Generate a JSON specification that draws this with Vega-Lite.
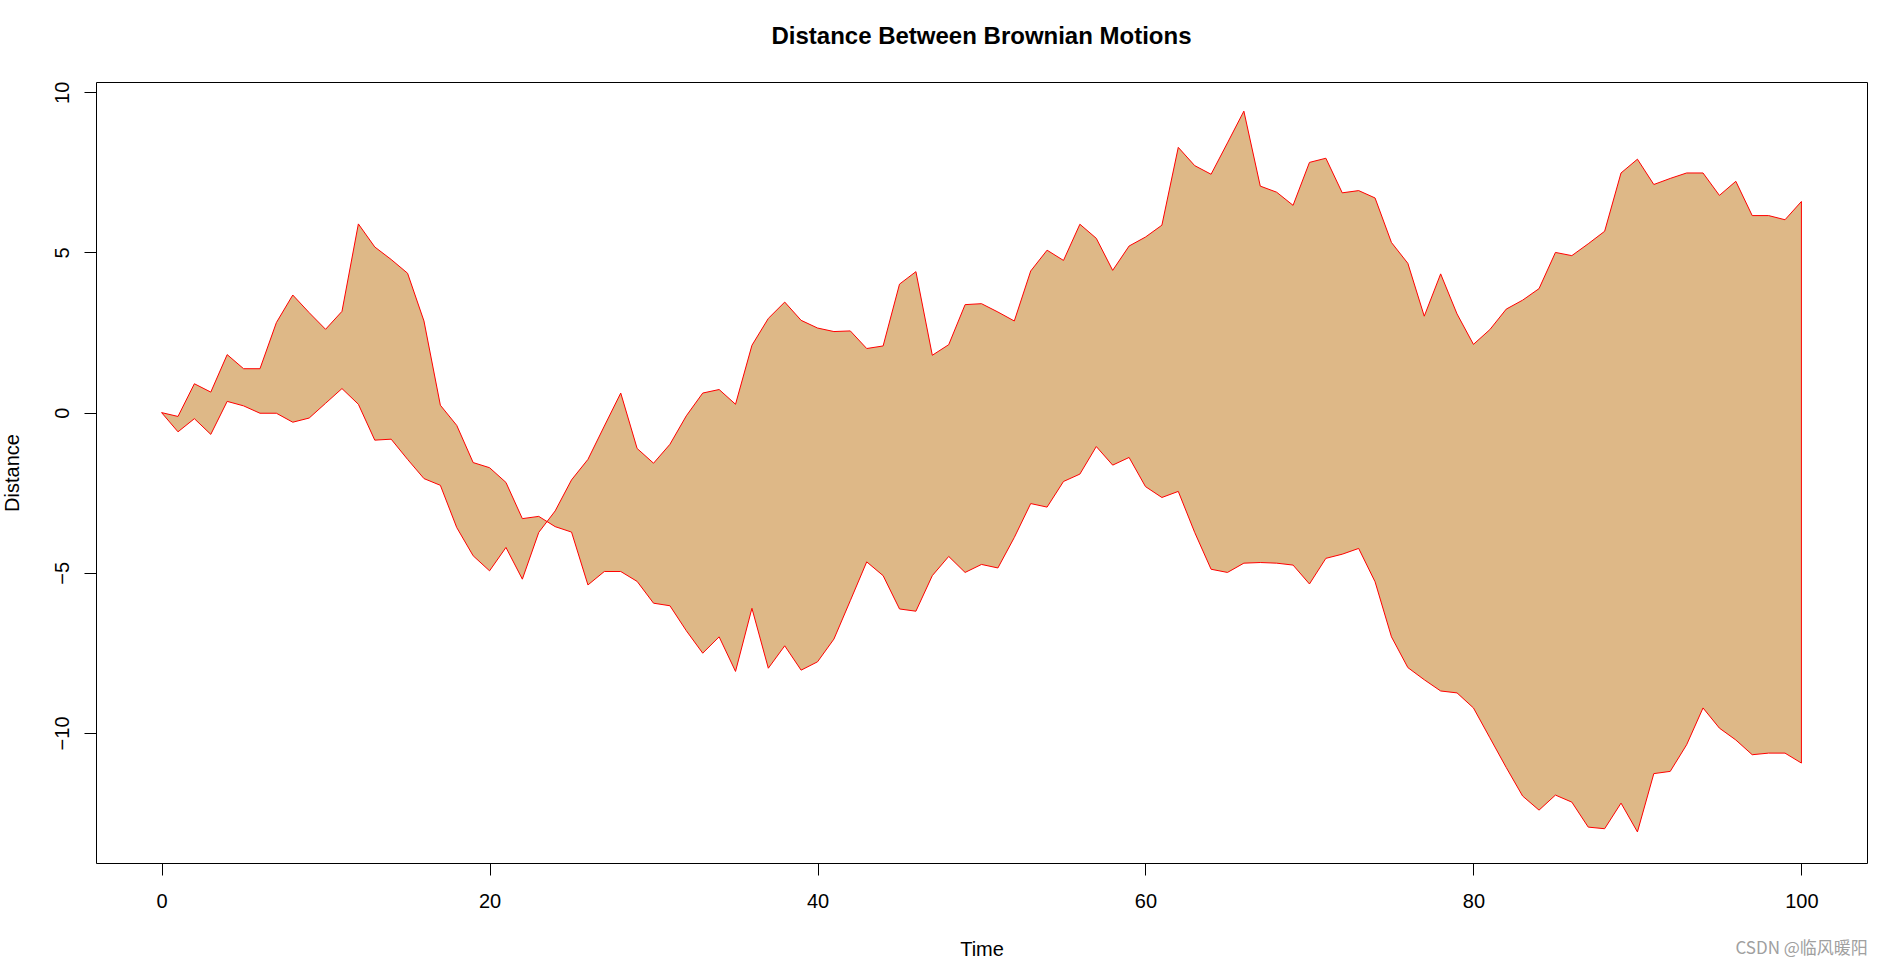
{
  "$schema": "https://vega.github.io/schema/vega-lite/v6.json",
  "width": 1771,
  "height": 781,
  "autosize": {"type": "none"},
  "padding": {"left": 96, "top": 82, "right": 17, "bottom": 104},
  "background": "white",
  "config": {
    "font": "Liberation Sans",
    "view": {"stroke": "#000000", "strokeWidth": 1},
    "axis": {
      "grid": false,
      "domain": false,
      "tickColor": "#000000",
      "tickSize": 12,
      "tickWidth": 1,
      "labelColor": "#000000",
      "labelFont": "Liberation Sans",
      "labelFontSize": 20,
      "titleFont": "Liberation Sans",
      "titleFontSize": 20,
      "titleFontWeight": "normal",
      "titleColor": "#000000"
    }
  },
  "title": {
    "text": "Distance Between Brownian Motions",
    "font": "Liberation Sans",
    "fontSize": 24,
    "fontWeight": "bold",
    "color": "#000000",
    "anchor": "middle",
    "offset": 32
  },
  "layer": [
    {
      "data": {
        "values": [
          {"t": 0, "a": 0, "b": 0},
          {"t": 1, "a": -0.12, "b": -0.6},
          {"t": 2, "a": 0.9, "b": -0.19},
          {"t": 3, "a": 0.64, "b": -0.68},
          {"t": 4, "a": 1.81, "b": 0.35},
          {"t": 5, "a": 1.37, "b": 0.21},
          {"t": 6, "a": 1.37, "b": -0.02},
          {"t": 7, "a": 2.81, "b": -0.02},
          {"t": 8, "a": 3.67, "b": -0.3},
          {"t": 9, "a": 3.12, "b": -0.17},
          {"t": 10, "a": 2.6, "b": 0.29},
          {"t": 11, "a": 3.16, "b": 0.75},
          {"t": 12, "a": 5.89, "b": 0.26},
          {"t": 13, "a": 5.17, "b": -0.86},
          {"t": 14, "a": 4.78, "b": -0.83},
          {"t": 15, "a": 4.35, "b": -1.46},
          {"t": 16, "a": 2.86, "b": -2.06},
          {"t": 17, "a": 0.23, "b": -2.27},
          {"t": 18, "a": -0.4, "b": -3.59},
          {"t": 19, "a": -1.56, "b": -4.47},
          {"t": 20, "a": -1.72, "b": -4.94},
          {"t": 21, "a": -2.18, "b": -4.21},
          {"t": 22, "a": -3.31, "b": -5.2},
          {"t": 23, "a": -3.24, "b": -3.74},
          {"t": 24, "a": -3.56, "b": -3.07},
          {"t": 25, "a": -3.73, "b": -2.1},
          {"t": 26, "a": -5.38, "b": -1.46},
          {"t": 27, "a": -4.96, "b": -0.42},
          {"t": 28, "a": -4.96, "b": 0.61},
          {"t": 29, "a": -5.27, "b": -1.12},
          {"t": 30, "a": -5.95, "b": -1.58},
          {"t": 31, "a": -6.03, "b": -0.99},
          {"t": 32, "a": -6.81, "b": -0.1},
          {"t": 33, "a": -7.51, "b": 0.61},
          {"t": 34, "a": -7.0, "b": 0.72},
          {"t": 35, "a": -8.08, "b": 0.26},
          {"t": 36, "a": -6.11, "b": 2.1},
          {"t": 37, "a": -7.98, "b": 2.94},
          {"t": 38, "a": -7.28, "b": 3.45},
          {"t": 39, "a": -8.04, "b": 2.88},
          {"t": 40, "a": -7.78, "b": 2.64},
          {"t": 41, "a": -7.07, "b": 2.53},
          {"t": 42, "a": -5.87, "b": 2.55},
          {"t": 43, "a": -4.66, "b": 2.0},
          {"t": 44, "a": -5.09, "b": 2.08},
          {"t": 45, "a": -6.13, "b": 4.01},
          {"t": 46, "a": -6.2, "b": 4.4},
          {"t": 47, "a": -5.09, "b": 1.79},
          {"t": 48, "a": -4.49, "b": 2.12},
          {"t": 49, "a": -4.99, "b": 3.37},
          {"t": 50, "a": -4.74, "b": 3.4},
          {"t": 51, "a": -4.85, "b": 3.14},
          {"t": 52, "a": -3.9, "b": 2.86},
          {"t": 53, "a": -2.84, "b": 4.42},
          {"t": 54, "a": -2.95, "b": 5.07},
          {"t": 55, "a": -2.15, "b": 4.75},
          {"t": 56, "a": -1.92, "b": 5.88},
          {"t": 57, "a": -1.06, "b": 5.44},
          {"t": 58, "a": -1.64, "b": 4.44},
          {"t": 59, "a": -1.4, "b": 5.2},
          {"t": 60, "a": -2.31, "b": 5.48},
          {"t": 61, "a": -2.65, "b": 5.85},
          {"t": 62, "a": -2.46, "b": 8.28},
          {"t": 63, "a": -3.74, "b": 7.71},
          {"t": 64, "a": -4.89, "b": 7.44},
          {"t": 65, "a": -4.99, "b": 8.42},
          {"t": 66, "a": -4.7, "b": 9.41},
          {"t": 67, "a": -4.68, "b": 7.07},
          {"t": 68, "a": -4.7, "b": 6.88},
          {"t": 69, "a": -4.76, "b": 6.47},
          {"t": 70, "a": -5.35, "b": 7.81},
          {"t": 71, "a": -4.55, "b": 7.94},
          {"t": 72, "a": -4.42, "b": 6.86},
          {"t": 73, "a": -4.24, "b": 6.93},
          {"t": 74, "a": -5.28, "b": 6.7},
          {"t": 75, "a": -7.0, "b": 5.31},
          {"t": 76, "a": -7.96, "b": 4.66},
          {"t": 77, "a": -8.34, "b": 3.01},
          {"t": 78, "a": -8.69, "b": 4.33},
          {"t": 79, "a": -8.75, "b": 3.08},
          {"t": 80, "a": -9.22, "b": 2.13},
          {"t": 81, "a": -10.15, "b": 2.59},
          {"t": 82, "a": -11.08, "b": 3.23},
          {"t": 83, "a": -11.97, "b": 3.51},
          {"t": 84, "a": -12.41, "b": 3.87},
          {"t": 85, "a": -11.94, "b": 5.0},
          {"t": 86, "a": -12.16, "b": 4.9},
          {"t": 87, "a": -12.94, "b": 5.27},
          {"t": 88, "a": -12.99, "b": 5.66},
          {"t": 89, "a": -12.19, "b": 7.48},
          {"t": 90, "a": -13.09, "b": 7.91},
          {"t": 91, "a": -11.27, "b": 7.12},
          {"t": 92, "a": -11.2, "b": 7.31},
          {"t": 93, "a": -10.37, "b": 7.48},
          {"t": 94, "a": -9.22, "b": 7.48},
          {"t": 95, "a": -9.85, "b": 6.78},
          {"t": 96, "a": -10.22, "b": 7.22},
          {"t": 97, "a": -10.68, "b": 6.15},
          {"t": 98, "a": -10.63, "b": 6.15},
          {"t": 99, "a": -10.63, "b": 6.02},
          {"t": 100, "a": -10.94, "b": 6.59}
        ]
      },
      "mark": {"type": "area", "fill": "#DEB887", "stroke": "#FF0000", "strokeWidth": 1, "opacity": 1},
      "encoding": {
        "x": {
          "field": "t",
          "type": "quantitative",
          "scale": {"domain": [-4, 104], "nice": false, "zero": false},
          "axis": {
            "values": [0, 20, 40, 60, 80, 100],
            "title": "Time",
            "labelPadding": 16,
            "labelBaseline": "top",
            "titlePadding": 28
          }
        },
        "y": {
          "field": "a",
          "type": "quantitative",
          "scale": {"domain": [-14.06, 10.32], "nice": false, "zero": false},
          "axis": {
            "values": [-10, -5, 0, 5, 10],
            "title": "Distance",
            "labelAngle": -90,
            "labelAlign": "center",
            "labelBaseline": "alphabetic",
            "labelPadding": 16,
            "titlePadding": 30
          }
        },
        "y2": {"field": "b"}
      }
    },
    {
      "data": {"values": [{"label": "CSDN @临风暖阳"}]},
      "mark": {
        "type": "text",
        "align": "right",
        "baseline": "middle",
        "font": "Noto Sans CJK SC",
        "fontSize": 17,
        "color": "#a0a0a0"
      },
      "encoding": {
        "x": {"datum": 104.05, "type": "quantitative"},
        "y": {"datum": -16.74, "type": "quantitative"},
        "text": {"field": "label", "type": "nominal"}
      }
    }
  ]
}
